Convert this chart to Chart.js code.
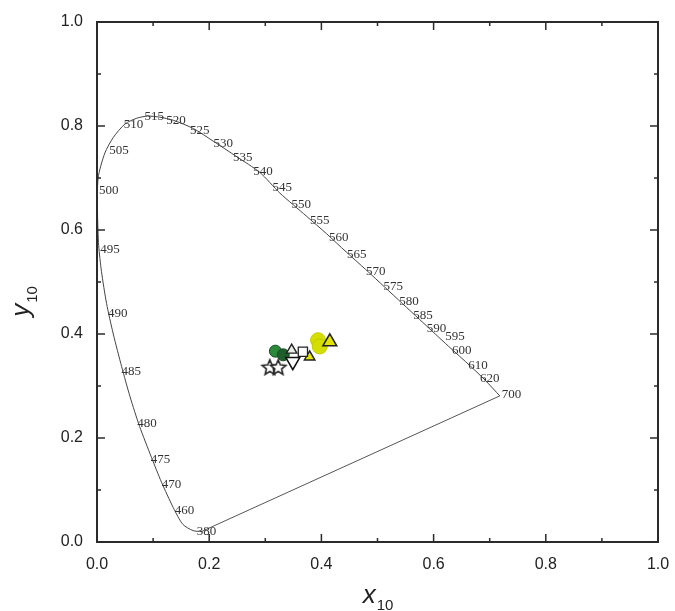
<!DOCTYPE html>
<html>
<head>
<meta charset="utf-8">
<script src="https://cdn.jsdelivr.net/npm/chart.js@4.4.0/dist/chart.umd.min.js"></script>
<style>
  html, body { margin:0; padding:0; background:#fff; }
</style>
</head>
<body>
<canvas id="cie" width="675" height="611"></canvas>
<script>
// spectral locus (380 nm -> 700 nm)
const locusX = [0.186,0.171,0.153,0.136,0.115,0.097,0.076,0.059,0.044,0.029,0.017,0.008,0.003,0.001,0.002,0.014,0.029,0.050,0.071,0.090,0.112,0.136,0.172,0.207,0.249,0.290,0.326,0.373,0.409,0.444,0.479,0.513,0.545,0.575,0.603,0.627,0.666,0.692,0.718];
const locusY = [0.020,0.022,0.034,0.066,0.115,0.163,0.222,0.279,0.337,0.400,0.459,0.520,0.570,0.630,0.700,0.748,0.778,0.804,0.815,0.819,0.817,0.811,0.795,0.771,0.741,0.711,0.671,0.627,0.593,0.558,0.524,0.490,0.458,0.428,0.400,0.376,0.338,0.311,0.281];

// wavelength labels and where they sit (chart units)
const waveLabels = ["380","460","470","475","480","485","490","495","500","505","510","515","520","525","530","535","540","545","550","555","560","565","570","575","580","585","590","595","600","610","620","700"];
const waveLabelX = [0.195,0.156,0.133,0.113,0.089,0.061,0.037,0.023,0.021,0.039,0.065,0.102,0.141,0.183,0.225,0.260,0.296,0.330,0.364,0.397,0.431,0.463,0.497,0.528,0.556,0.581,0.605,0.638,0.650,0.679,0.700,0.739];
const waveLabelY = [0.020,0.060,0.110,0.158,0.228,0.327,0.440,0.562,0.676,0.753,0.802,0.818,0.810,0.791,0.767,0.740,0.712,0.682,0.648,0.619,0.586,0.552,0.520,0.491,0.462,0.435,0.411,0.395,0.369,0.340,0.315,0.283];

// samples
const starX = [0.308,0.323];        const starY = [0.337,0.337];
const greenX = [0.318,0.332];       const greenY = [0.367,0.360];
const openUpX = [0.347];            const openUpY = [0.369];
const openDownX = [0.349];          const openDownY = [0.347];
const squareX = [0.367];            const squareY = [0.366];
const yellowTriX = [0.379,0.415];   const yellowTriY = [0.356,0.385];
const yellowDotX = [0.394,0.397];   const yellowDotY = [0.388,0.376];

const tickValues = [0,0.1,0.2,0.3,0.4,0.5,0.6,0.7,0.8,0.9,1.0];

function pts(xs, ys) {
  return xs.map((v,i)=>({x:v, y:ys[i]}));
}

// five point open star for the point style
function makeStar(r) {
  const c = document.createElement("canvas");
  const s = Math.ceil(r*2+4);
  c.width = s; c.height = s;
  const g = c.getContext("2d");
  g.beginPath();
  for (let i=0;i<10;i++) {
    const rad = i%2===0 ? r : r*0.45;
    const a = -Math.PI/2 + i*Math.PI/5;
    const px = s/2 + rad*Math.cos(a), py = s/2 + 1 + rad*Math.sin(a);
    if (i===0) g.moveTo(px,py); else g.lineTo(px,py);
  }
  g.closePath();
  g.fillStyle = "#fff";
  g.fill();
  g.lineWidth = 1.6;
  g.strokeStyle = "#222";
  g.stroke();
  return c;
}
const starImg = makeStar(8);

const decor = {
  id: "decor",
  afterDatasetsDraw(chart) {
    const ctx = chart.ctx;
    const a = chart.chartArea;
    const x = chart.scales.x, y = chart.scales.y;
    ctx.save();
    // wavelength labels
    ctx.font = "13px 'Liberation Serif'";
    ctx.fillStyle = "#333";
    ctx.textAlign = "center";
    ctx.textBaseline = "middle";
    for (let i=0;i<waveLabels.length;i++) {
      ctx.fillText(waveLabels[i], x.getPixelForValue(waveLabelX[i]), y.getPixelForValue(waveLabelY[i]));
    }
    // frame
    ctx.strokeStyle = "#2b2b2b";
    ctx.lineWidth = 2;
    ctx.strokeRect(a.left, a.top, a.right-a.left, a.bottom-a.top);
    // inward ticks on all four sides
    ctx.lineWidth = 1.5;
    tickValues.forEach((v,i)=>{
      const len = i%2===0 ? 8 : 4;
      const px = x.getPixelForValue(v), py = y.getPixelForValue(v);
      ctx.beginPath();
      ctx.moveTo(px, a.bottom); ctx.lineTo(px, a.bottom-len);
      ctx.moveTo(px, a.top); ctx.lineTo(px, a.top+len);
      ctx.moveTo(a.left, py); ctx.lineTo(a.left+len, py);
      ctx.moveTo(a.right, py); ctx.lineTo(a.right-len, py);
      ctx.stroke();
    });
    ctx.restore();
  },
  afterDraw(chart) {
    const ctx = chart.ctx;
    const a = chart.chartArea;
    ctx.save();
    ctx.fillStyle = "#222";
    ctx.textAlign = "left";
    ctx.textBaseline = "alphabetic";
    const big = "italic 26px 'Liberation Sans'", small = "15px 'Liberation Sans'";
    // x10
    ctx.font = big; const w1 = ctx.measureText("x").width;
    ctx.font = small; const w2 = ctx.measureText("10").width;
    let sx = (a.left+a.right)/2 - (w1+w2)/2;
    ctx.font = big; ctx.fillText("x", sx, 603);
    ctx.font = small; ctx.fillText("10", sx+w1+1, 610);
    // y10
    ctx.font = big; const w3 = ctx.measureText("y").width;
    ctx.translate(29, 302);
    ctx.rotate(-Math.PI/2);
    sx = -(w3+w2)/2;
    ctx.fillText("y", sx, 0);
    ctx.font = small; ctx.fillText("10", sx+w3+1, 8);
    ctx.restore();
  }
};

const locusPts = pts(locusX, locusY);
const purpleLine = [locusPts[locusPts.length-1], locusPts[0]];

new Chart(document.getElementById("cie"), {
  type: "scatter",
  data: {
    datasets: [
      { data: pts(openDownX, openDownY), pointStyle: "triangle", rotation: 180, pointRadius: 8,
        backgroundColor: "#fff", borderColor: "#111", borderWidth: 1.6 },
      { data: pts(starX, starY), pointStyle: starImg },
      { data: pts(squareX, squareY), pointStyle: "rect", pointRadius: 6.5,
        backgroundColor: "#fff", borderColor: "#222", borderWidth: 1.3 },
      { data: pts(yellowTriX, yellowTriY), pointStyle: "triangle", pointRadius: [6,8],
        backgroundColor: "#e2e400", borderColor: "#222", borderWidth: 1.5 },
      { data: pts(yellowDotX, yellowDotY), pointStyle: "circle", pointRadius: 7.5,
        backgroundColor: "#d4de00", borderColor: "#c3cc00", borderWidth: 1 },
      { data: pts(openUpX, openUpY), pointStyle: "triangle", pointRadius: 6,
        backgroundColor: "#e8efe8", borderColor: "#222", borderWidth: 1.4 },
      { data: pts(greenX, greenY), pointStyle: "circle", pointRadius: 6,
        backgroundColor: ["#2a8a3a","#1d5e2a"], borderColor: "#174d22", borderWidth: 1 },
      { data: locusPts, showLine: true, pointRadius: 0, tension: 0.25,
        borderColor: "#444", borderWidth: 1 },
      { data: purpleLine, showLine: true, pointRadius: 0, tension: 0,
        borderColor: "#555", borderWidth: 1 }
    ]
  },
  options: {
    responsive: false,
    animation: false,
    devicePixelRatio: 1,
    layout: { padding: { top: 22, right: 17, left: 0, bottom: 0 } },
    plugins: { legend: { display: false }, tooltip: { enabled: false } },
    scales: {
      x: {
        type: "linear", min: 0, max: 1,
        grid: { display: false, drawTicks: false },
        border: { display: false },
        ticks: { stepSize: 0.2, padding: 13, color: "#222",
          font: { family: "'Liberation Sans'", size: 16 },
          callback: v => v.toFixed(1) },
        afterFit: s => { s.height = 69; s.paddingLeft = 0; s.paddingRight = 0; }
      },
      y: {
        type: "linear", min: 0, max: 1,
        grid: { display: false, drawTicks: false },
        border: { display: false },
        ticks: { stepSize: 0.2, padding: 14, color: "#222",
          font: { family: "'Liberation Sans'", size: 16 },
          callback: v => v.toFixed(1) },
        afterFit: s => { s.width = 97; s.paddingTop = 0; s.paddingBottom = 0; }
      }
    }
  },
  plugins: [decor]
});
</script>
</body>
</html>
